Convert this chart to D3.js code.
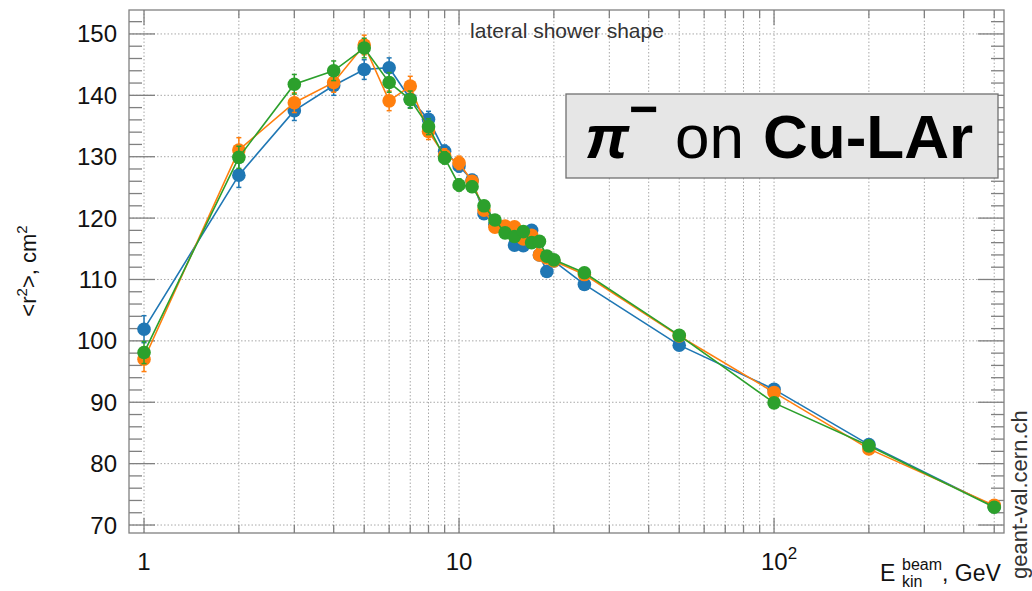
<!DOCTYPE html>
<html>
<head>
<meta charset="utf-8">
<script src="https://cdn.jsdelivr.net/npm/d3@7"></script>
<style>
	body { margin: 0; background: #fff; }
	svg { display: block; font-family: "Liberation Sans", Arial, sans-serif; }
</style>
</head>
<body>
<svg id="chart" width="1032" height="591"></svg>
<script>
// beam energies, GeV
const energies = [1, 2, 3, 4, 5, 6, 7, 8, 9, 10, 11, 12, 13, 14, 15, 16, 17, 18, 19, 20, 25, 50, 100, 200, 500];

// <r^2> values, cm^2, one list per model
const seriesBlue   = [101.9, 127.0, 137.5, 141.6, 144.2, 144.5, 139.4, 136.1, 130.9, 128.5, 126.2, 120.7, 119.0, 118.0, 115.6, 115.5, 118.0, 114.0, 111.3, 113.0, 109.2, 99.3, 92.1, 83.1, 73.0];
const seriesOrange = [97.0, 131.1, 138.8, 142.1, 148.2, 139.1, 141.5, 134.1, 130.2, 129.0, 126.0, 121.3, 118.5, 118.7, 118.6, 116.6, 117.2, 114.0, 113.5, 113.0, 110.8, 100.8, 91.6, 82.4, 73.2];
const seriesGreen  = [98.1, 129.9, 141.8, 144.0, 147.7, 142.1, 139.3, 134.9, 129.8, 125.4, 125.1, 122.0, 119.7, 117.6, 117.0, 117.8, 116.0, 116.2, 113.8, 113.2, 111.1, 100.9, 89.9, 82.9, 72.9];

// statistical errors (approx.), same energies
const errBlue   = [2.2, 2.0, 1.6, 1.6, 1.6, 1.6, 1.4, 1.3, 1.0, 1.0, 0.9, 0.8, 0.7, 0.7, 0.7, 0.7, 0.7, 0.6, 0.6, 0.6, 0.5, 0.4, 0.4, 0.3, 0.3];
const errOrange = [2.0, 2.0, 1.6, 1.6, 1.6, 1.6, 1.6, 1.3, 1.1, 1.1, 0.9, 0.8, 0.7, 0.7, 0.7, 0.7, 0.7, 0.6, 0.6, 0.6, 0.5, 0.4, 0.4, 0.3, 0.3];
const errGreen  = [1.8, 1.8, 1.6, 1.6, 1.6, 1.6, 1.4, 1.3, 1.0, 1.0, 0.9, 0.8, 0.7, 0.7, 0.7, 0.7, 0.7, 0.6, 0.6, 0.6, 0.5, 0.4, 0.4, 0.3, 0.3];

const seriesColors = ["#1f77b4", "#ff7f0e", "#2ca02c"];

// axis ticks
const yTickValues = [70, 80, 90, 100, 110, 120, 130, 140, 150];
const xMajorTicks = [1, 10, 100];
const xTickLabels = ["1", "10", "10²"];

drawChart();

function drawChart(){
	var svg = d3.select("#chart"),
		frame = {left: 129, right: 1004, top: 10, bottom: 533},
		x = d3.scaleLog().domain([0.896, 537]).range([frame.left, frame.right]),
		y = d3.scaleLinear().domain([68.7, 153.9]).range([frame.bottom, frame.top]),
		axisColor = "#808080",
		xMinor = [],
		yMinor = [],
		allSeries = [
			{values: seriesBlue, errors: errBlue, color: seriesColors[0]},
			{values: seriesOrange, errors: errOrange, color: seriesColors[1]},
			{values: seriesGreen, errors: errGreen, color: seriesColors[2]}
		];

	// minor tick positions: 2..9 per decade, every 2 units on y
	[1, 10, 100].forEach(function(dec){
		for(let k = 1; k <= 9; k++){
			let v = dec*k;
			if(v >= x.domain()[0] && v <= x.domain()[1]) xMinor.push(v);
		}
	});
	for(let v = 70; v <= 152; v += 2) yMinor.push(v);

	drawGrid();
	drawFrame();
	drawSeries();
	drawTexts();

	function drawGrid(){
		let grid = svg.append("g").attr("class", "grid")
			.attr("stroke", "#a8a8a8")
			.attr("stroke-width", 1)
			.attr("stroke-dasharray", "1.5,2");
		grid.selectAll("line.gx").data(xMinor).enter().append("line")
			.attr("class", "gx")
			.attr("x1", d => x(d)).attr("x2", d => x(d))
			.attr("y1", frame.top).attr("y2", frame.bottom);
		grid.selectAll("line.gy").data(yTickValues).enter().append("line")
			.attr("class", "gy")
			.attr("x1", frame.left).attr("x2", frame.right)
			.attr("y1", d => y(d)).attr("y2", d => y(d));
	}

	function drawFrame(){
		let g = svg.append("g").attr("class", "frame").attr("stroke", axisColor).attr("stroke-width", 1.3);

		// y ticks, left and right (inside)
		g.selectAll("line.yl").data(yMinor).enter().append("line")
			.attr("x1", frame.left)
			.attr("x2", d => frame.left + (d % 10 === 0 ? 26 : 13))
			.attr("y1", d => y(d)).attr("y2", d => y(d));
		g.selectAll("line.yr").data(yMinor).enter().append("line")
			.attr("x1", frame.right)
			.attr("x2", d => frame.right - (d % 10 === 0 ? 26 : 13))
			.attr("y1", d => y(d)).attr("y2", d => y(d));

		// x ticks, bottom and top (inside)
		g.selectAll("line.xb").data(xMinor).enter().append("line")
			.attr("x1", d => x(d)).attr("x2", d => x(d))
			.attr("y1", frame.bottom)
			.attr("y2", d => frame.bottom - (xMajorTicks.indexOf(d) >= 0 ? 15 : 8));
		g.selectAll("line.xt").data(xMinor).enter().append("line")
			.attr("x1", d => x(d)).attr("x2", d => x(d))
			.attr("y1", frame.top)
			.attr("y2", d => frame.top + (xMajorTicks.indexOf(d) >= 0 ? 15 : 8));

		g.append("rect")
			.attr("x", frame.left).attr("y", frame.top)
			.attr("width", frame.right - frame.left)
			.attr("height", frame.bottom - frame.top)
			.attr("fill", "none");

		// tick labels
		svg.append("g").selectAll("text").data(yTickValues).enter().append("text")
			.attr("x", 117)
			.attr("y", d => y(d) + 8.5)
			.attr("text-anchor", "end")
			.attr("font-size", 24)
			.attr("fill", "#111")
			.text(d => d);

		let xl = svg.append("g").selectAll("text").data(xMajorTicks).enter().append("text")
			.attr("x", d => x(d))
			.attr("y", 570)
			.attr("text-anchor", "middle")
			.attr("font-size", 24)
			.attr("fill", "#111");
		xl.each(function(d, i){
			let t = d3.select(this);
			if(d === 100){
				t.attr("x", x(d) + 5);
				t.append("tspan").text("10");
				t.append("tspan").attr("dy", -11).attr("font-size", 17).text("2");
			} else {
				t.text(xTickLabels[i]);
			}
		});
	}

	function drawSeries(){
		let line = d3.line()
			.x((d, i) => x(energies[i]))
			.y(d => y(d));

		allSeries.forEach(function(s){
			let g = svg.append("g").attr("class", "series");
			g.append("path")
				.attr("d", line(s.values))
				.attr("fill", "none")
				.attr("stroke", s.color)
				.attr("stroke-width", 1.6);

			let pts = s.values.map((v, i) => ({e: energies[i], v: v, err: s.errors[i]}));
			g.selectAll("line.err").data(pts).enter().append("line")
				.attr("class", "err")
				.attr("x1", d => x(d.e)).attr("x2", d => x(d.e))
				.attr("y1", d => y(d.v - d.err)).attr("y2", d => y(d.v + d.err))
				.attr("stroke", s.color).attr("stroke-width", 1.5);
			["-", "+"].forEach(function(sign){
				g.selectAll("line.cap" + (sign === "+" ? "p" : "m")).data(pts).enter().append("line")
					.attr("x1", d => x(d.e) - 2.5).attr("x2", d => x(d.e) + 2.5)
					.attr("y1", d => y(sign === "+" ? d.v + d.err : d.v - d.err))
					.attr("y2", d => y(sign === "+" ? d.v + d.err : d.v - d.err))
					.attr("stroke", s.color).attr("stroke-width", 1.5);
			});
			g.selectAll("circle").data(pts).enter().append("circle")
				.attr("cx", d => x(d.e))
				.attr("cy", d => y(d.v))
				.attr("r", 6.8)
				.attr("fill", s.color);
		});
	}

	function drawTexts(){
		svg.append("text")
			.attr("x", 567).attr("y", 38)
			.attr("text-anchor", "middle")
			.attr("font-size", 21)
			.attr("fill", "#333")
			.text("lateral shower shape");

		// particle / target box
		svg.append("rect")
			.attr("x", 566).attr("y", 94)
			.attr("width", 432).attr("height", 84)
			.attr("fill", "#e6e6e6")
			.attr("stroke", "#707070")
			.attr("stroke-width", 1.3);
		let label = svg.append("text")
			.attr("y", 158)
			.attr("font-size", 62)
			.attr("fill", "#000");
		label.append("tspan").attr("x", 585).attr("font-weight", "bold").attr("font-style", "italic").text("π");
		label.append("tspan").attr("x", 629).attr("y", 126).attr("font-size", 50).attr("font-weight", "bold").text("−");
		label.append("tspan").attr("x", 675).attr("y", 158).text("on");
		label.append("tspan").attr("x", 763).attr("font-weight", "bold").text("Cu-LAr");

		// y axis title
		let yt = svg.append("text")
			.attr("transform", "translate(36,271) rotate(-90)")
			.attr("text-anchor", "middle")
			.attr("font-size", 22)
			.attr("fill", "#111");
		yt.append("tspan").text("<r");
		yt.append("tspan").attr("dy", -9).attr("font-size", 15).text("2");
		yt.append("tspan").attr("dy", 9).text(">,  cm");
		yt.append("tspan").attr("dy", -9).attr("font-size", 15).text("2");

		// x axis title, pieces placed one by one
		let xt = svg.append("g").attr("fill", "#111");
		xt.append("text").attr("x", 880).attr("y", 581).attr("font-size", 23).text("E");
		xt.append("text").attr("x", 902).attr("y", 570).attr("font-size", 16).text("beam");
		xt.append("text").attr("x", 902).attr("y", 587).attr("font-size", 16).text("kin");
		xt.append("text").attr("x", 942).attr("y", 581).attr("font-size", 23).text(", GeV");

		svg.append("text")
			.attr("transform", "translate(1027,579) rotate(-90)")
			.attr("font-size", 22)
			.attr("fill", "#333")
			.text("geant-val.cern.ch");
	}
}
</script>
</body>
</html>
